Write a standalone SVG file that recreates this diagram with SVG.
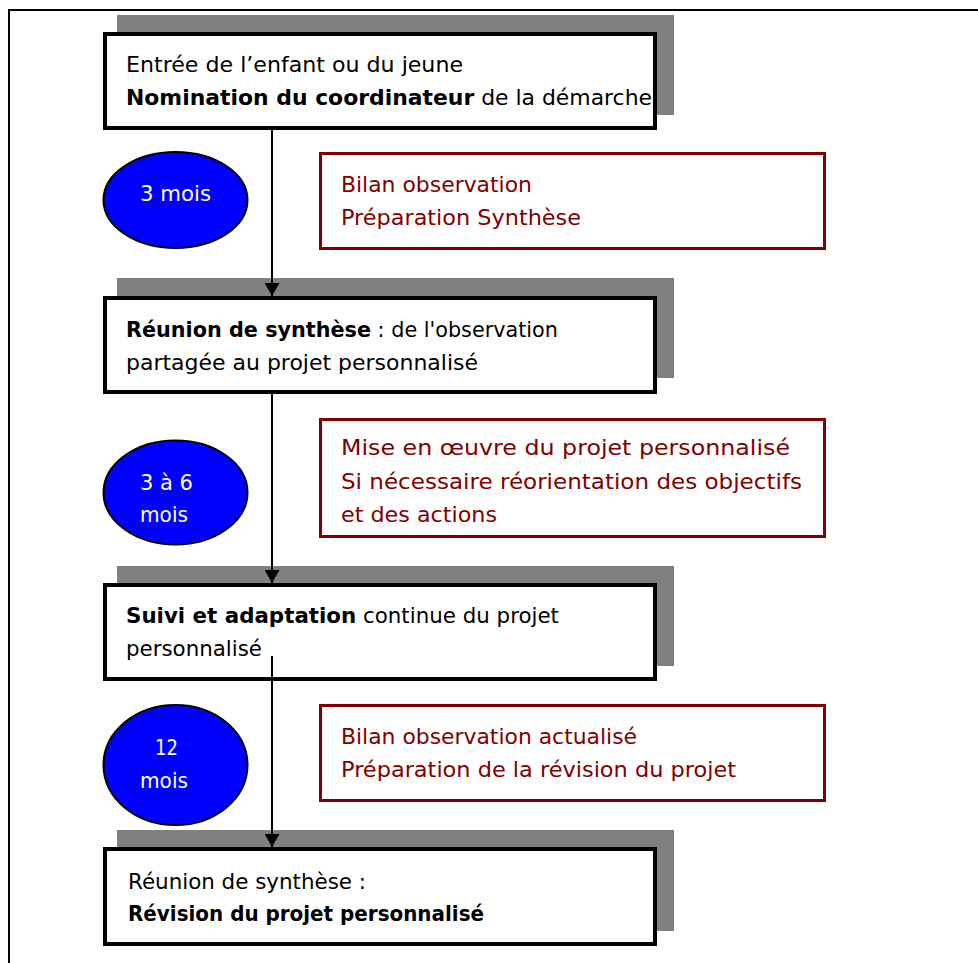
<svg xmlns="http://www.w3.org/2000/svg" width="978" height="963" viewBox="0 0 978 963">
<style>
.bg{fill:#ffffff}
.frame{fill:none;stroke:#000;stroke-width:2}
.shadow{fill:#808080}
.box{fill:#fff;stroke:#000;stroke-width:4}
.note{fill:#fff;stroke:#800000;stroke-width:3}
.oval{fill:#0000ff;stroke:#000;stroke-width:2}
.t{font-family:"DejaVu Sans","Liberation Sans",sans-serif;font-size:22px;fill:#000}
.r{font-family:"DejaVu Sans","Liberation Sans",sans-serif;font-size:22px;fill:#800000}
.w{font-family:"DejaVu Sans","Liberation Sans",sans-serif;font-size:22px;fill:#fff}
.b{font-weight:bold}
.conn{stroke:#000;stroke-width:2;fill:none}
</style>
<defs>
<marker id="ah" viewBox="0 0 13 15" refX="13" refY="7.5" markerWidth="13" markerHeight="15" markerUnits="userSpaceOnUse" orient="auto">
<path d="M0,0 L13,7.5 L0,15 Z" fill="#000"/>
</marker>
</defs>
<rect class="bg" x="0" y="0" width="978" height="963"/>
<rect class="frame" x="9" y="10" width="1000" height="1000"/>

<g id="step1">
<rect class="shadow" x="117" y="15" width="557" height="100"/>
<rect class="box" x="105" y="34" width="550" height="94"/>
<text class="t" x="126" y="72" textLength="337" lengthAdjust="spacingAndGlyphs">Entrée de l’enfant ou du jeune</text>
<text class="t" x="126" y="105" textLength="526" lengthAdjust="spacingAndGlyphs"><tspan class="b">Nomination du coordinateur</tspan> de la démarche</text>
</g>

<g id="step2">
<rect class="shadow" x="117" y="278" width="557" height="100"/>
<rect class="box" x="105" y="298" width="550" height="94"/>
<text class="t" x="126" y="337" textLength="432" lengthAdjust="spacingAndGlyphs"><tspan class="b">Réunion de synthèse</tspan> : de l'observation</text>
<text class="t" x="126" y="370" textLength="352" lengthAdjust="spacingAndGlyphs">partagée au projet personnalisé</text>
</g>

<g id="step3">
<rect class="shadow" x="117" y="566" width="557" height="100"/>
<rect class="box" x="105" y="585" width="550" height="94"/>
<text class="t" x="126" y="623" textLength="433" lengthAdjust="spacingAndGlyphs"><tspan class="b">Suivi et adaptation</tspan> continue du projet</text>
<text class="t" x="126" y="656" textLength="136" lengthAdjust="spacingAndGlyphs">personnalisé</text>
</g>

<g id="step4">
<rect class="shadow" x="117" y="830" width="557" height="101"/>
<rect class="box" x="105" y="849" width="550" height="95"/>
<text class="t" x="128" y="889" textLength="238" lengthAdjust="spacingAndGlyphs">Réunion de synthèse :</text>
<text class="t b" x="128" y="921" textLength="356" lengthAdjust="spacingAndGlyphs">Révision du projet personnalisé</text>
</g>

<g id="duration1">
<ellipse class="oval" cx="175.5" cy="200" rx="72" ry="48"/>
<text class="w" x="140" y="201" textLength="71" lengthAdjust="spacingAndGlyphs">3 mois</text>
</g>

<g id="duration2">
<ellipse class="oval" cx="175.5" cy="492.5" rx="72" ry="52"/>
<text class="w" x="140" y="490" textLength="53" lengthAdjust="spacingAndGlyphs">3 à 6</text>
<text class="w" x="140" y="522" textLength="48" lengthAdjust="spacingAndGlyphs">mois</text>
</g>

<g id="duration3">
<ellipse class="oval" cx="175.5" cy="765" rx="72" ry="60"/>
<text class="w" x="155" y="755" textLength="23" lengthAdjust="spacingAndGlyphs">12</text>
<text class="w" x="140" y="788" textLength="48" lengthAdjust="spacingAndGlyphs">mois</text>
</g>

<g id="note1">
<rect class="note" x="320.5" y="153.5" width="504" height="95"/>
<text class="r" x="341" y="192" textLength="191" lengthAdjust="spacingAndGlyphs">Bilan observation</text>
<text class="r" x="341" y="225" textLength="240" lengthAdjust="spacingAndGlyphs">Préparation Synthèse</text>
</g>

<g id="note2">
<rect class="note" x="320.5" y="419.5" width="504" height="117"/>
<text class="r" x="341" y="455" textLength="449" lengthAdjust="spacingAndGlyphs">Mise en œuvre du projet personnalisé</text>
<text class="r" x="341" y="489" textLength="461" lengthAdjust="spacingAndGlyphs">Si nécessaire réorientation des objectifs</text>
<text class="r" x="341" y="522" textLength="156" lengthAdjust="spacingAndGlyphs">et des actions</text>
</g>

<g id="note3">
<rect class="note" x="320.5" y="705.5" width="504" height="95"/>
<text class="r" x="341" y="744" textLength="296" lengthAdjust="spacingAndGlyphs">Bilan observation actualisé</text>
<text class="r" x="341" y="777" textLength="395" lengthAdjust="spacingAndGlyphs">Préparation de la révision du projet</text>
</g>

<g id="connectors">
<line class="conn" x1="272" y1="130" x2="272" y2="296" marker-end="url(#ah)"/>
<line class="conn" x1="272" y1="394" x2="272" y2="583" marker-end="url(#ah)"/>
<line class="conn" x1="272" y1="656" x2="272" y2="847" marker-end="url(#ah)"/>
</g>
</svg>
